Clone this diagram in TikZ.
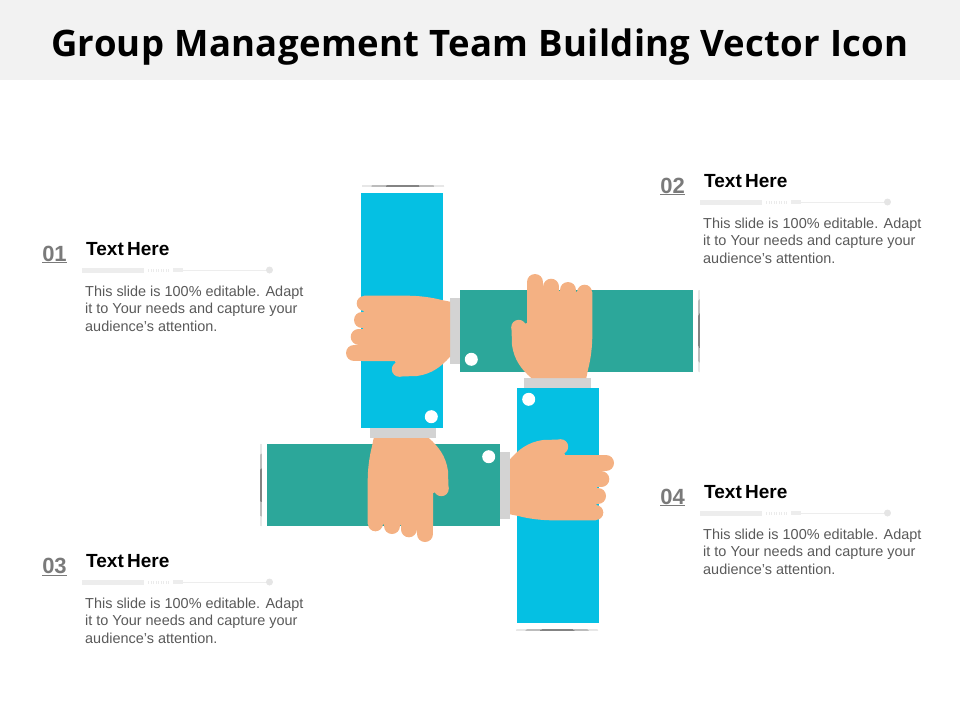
\documentclass[tikz,border=0pt]{standalone}
\usepackage{fontspec}
\setmainfont{Liberation Sans}
\newfontfamily\titlefont[LetterSpace=1.0]{Open Sans}
\usetikzlibrary{positioning}
\definecolor{armteal}{HTML}{2CA79A}
\definecolor{armblue}{HTML}{05C0E3}
\definecolor{skin}{HTML}{F4B183}
\definecolor{cuff}{HTML}{D3D3D3}
\definecolor{band}{HTML}{F2F2F2}
\tikzset{
  num node/.style={font=\bfseries\fontsize{22}{22}\selectfont, text=black!52, inner sep=0pt},
  head node/.style={font=\bfseries\fontsize{19}{19}\selectfont, inner sep=0pt},
  body node/.style={font=\fontsize{14.45}{17.6}\selectfont, text=black!65, align=left, inner sep=0pt},
  hand/.pic={
    \fill[skin] (-30,-106.3) -- (-38.3,-108) .. controls (-50,-111) and (-62,-112.3) .. (-73.3,-112.3)
      -- (-116,-112.3) -- (-118,-47) -- (-85,-47) -- (-80,-31.5) -- (-63,-32)
      .. controls (-48,-34) and (-38,-42) .. (-30,-51.3) -- cycle;
    \draw[skin, line width=15, line cap=round] (-115.8,-104.7) -- (-105,-104.7);
    \draw[skin, line width=16, line cap=round] (-118,-88) -- (-105,-88);
    \draw[skin, line width=16, line cap=round] (-121.3,-71.3) -- (-105,-71.3);
    \draw[skin, line width=16, line cap=round] (-126,-55) -- (-105,-55);
    \fill[skin] (-80.7,-38.7) circle (7.5);
  }
}

\begin{document}
\begin{tikzpicture}[x=1pt, y=-1pt]
  \useasboundingbox (0,0) rectangle (960,720);
  % Title
  \fill[band] (0,0) rectangle (960,80);
  \node[font=\titlefont\bfseries\fontsize{36.5}{36.5}\selectfont, inner sep=0pt] (title) at (480,47) {Group Management Team Building Vector Icon};
  % Arms
  \foreach \ang/\col/\len/\tip/\sd in {0/armteal/213/219/0, -90/armblue/215/222/-1, -180/armteal/213/219/0, -270/armblue/215/222/-1}{
    \begin{scope}[shift={(480,408)}, rotate=\ang]
      \fill[\col] (-20,\sd-118) rectangle (\len,\sd-36);
      \fill[cuff] (-30,-110.5) rectangle (-20,-44);
      \fill[white] (-8.7,-48.7) circle (6.5);
      \fill[black!75] (\tip,-118) .. controls (\tip+0.8,-90) and (\tip+0.8,-65) .. (\tip,-36)
        .. controls (\tip-0.8,-65) and (\tip-0.8,-90) .. (\tip,-118);
    \end{scope}
  }
  % Hands
  \foreach \ang in {0,-90,-180,-270}
    \pic[rotate=\ang] at (480,408) {hand};
  % Text blocks
  \foreach \n/\dx/\dy in {01/0/0, 02/618/-68, 03/0/312, 04/618/243}{
    \begin{scope}[shift={(\dx,\dy)}]
      \node[num node] (num\n) at (54.5,254.5) {\underline{\n}};
      \node[head node, anchor=west] (head\n) at (86,249.5) {Text\hspace{-2pt} Here};
      \fill[black!7] (82,267.5) rectangle (144,272.5);
      \draw[black!8, line width=3, dash pattern=on 1pt off 1.5pt] (148,270) -- (170,270);
      \fill[black!7] (173,268) rectangle (183,272);
      \draw[black!7, line width=0.8] (183,270) -- (268,270);
      \fill[black!10] (269.5,270) circle (3.5);
      \node[body node, anchor=north west] (body\n) at (85,285.5) {This slide is 100\% editable. Adapt\\it to Your needs and capture your\\audience’s attention.};
    \end{scope}
  }
\end{tikzpicture}
\end{document}
